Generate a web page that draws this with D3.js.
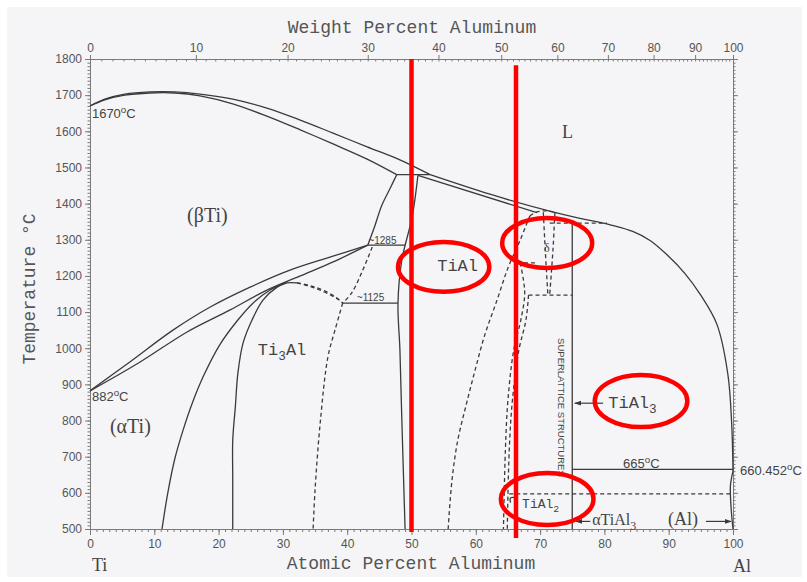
<!DOCTYPE html>
<html lang="en">
<head>
<meta charset="utf-8">
<title>Ti-Al phase diagram</title>
<script src="https://cdn.jsdelivr.net/npm/d3@7"></script>
<style>
body { margin: 0; background: #fff; }
.phase { fill: none; stroke: #3a3a3a; stroke-width: 1.3px; }
.dash { stroke-dasharray: 4,3; }
.axis path, .axis line { stroke: #7a7a7a; }
.axis text { font-family: "Liberation Sans", Arial, sans-serif; font-size: 12px; fill: #555; }
.mark { fill: none; stroke: #f00; stroke-width: 4.5px; }
</style>
</head>
<body>
<script>
var width = 807, height = 582;

// axis ticks
var atMajor = d3.range(0, 101, 10);
var atMinor = d3.range(0, 101, 1);
var wtMajor = d3.range(0, 101, 10);
var wtMinor = d3.range(0, 101, 1);
var tMajor = d3.range(500, 1801, 100);
var tMinor = d3.range(500, 1801, 10);

// phase boundaries, [at.% Al, deg C]
var liquidusTi = [[0,1670],[2.3,1689],[5.4,1703],[9.3,1709],[13.2,1709],[17.1,1703],[22.2,1689],[27.5,1664],[32.7,1631],[37.8,1595],[43.1,1557],[48.2,1521],[52.9,1480]];
var solidusBeta = [[0,1670],[2.3,1687],[5.4,1700],[9.3,1706],[13.2,1706],[17.1,1698],[22.2,1676],[27.5,1642],[32.7,1604],[37.8,1565],[43.1,1523],[47.7,1480]];
var peritectic = [[47.7,1480],[52.9,1480]];
var liquidusAl = [[52.9,1480],[62.2,1426],[71.5,1379],[76.2,1359],[79.3,1348],[81.2,1340],[84.4,1323],[87.1,1298],[89.7,1259],[92.5,1207],[94.9,1149],[97.5,1066],[99.2,928],[99.8,790],[100,660]];
var solidusGamma = [[51.0,1478],[69.5,1375]];
var betaAlpha = [[43.2,1285],[44.2,1333],[45.4,1396],[46.7,1443],[47.7,1480]];
var eutectoid1285 = [[43.2,1285],[49.0,1285]];
var gammaLeft = [[51.0,1478],[50.1,1363],[48.5,1244],[47.9,1125],[48.2,995],[48.5,801],[49.0,500]];
var transusBeta = [[0,882],[6.2,962],[12.9,1050],[18.7,1114],[24.9,1169],[31.1,1216],[37.3,1252],[43.2,1285]];
var transusAlpha = [[0,882],[7.8,962],[15.1,1045],[21.8,1106],[27.2,1158],[32.7,1200],[38.1,1241],[43.2,1285]];
var alphaSolvus = [[11.2,500],[12.1,600],[13.2,695],[14.5,775],[15.9,848],[17.7,925],[20.2,1010],[22.9,1076],[25.3,1124],[28.0,1161],[30.0,1178]];
var ti3AlLeft = [[22.2,500],[22.2,636],[22.2,746],[22.6,837],[23.0,931],[23.8,1014],[25.2,1078],[26.9,1133],[29.1,1169],[30.6,1181]];
var ti3AlTop = [[30.0,1178],[30.6,1181],[32.2,1181]];
var domeUpper = [[32.2,1181],[34.5,1172],[36.9,1155],[38.4,1139],[39.3,1125]];
var domeLower = [[32.2,1181],[35.0,1166],[37.3,1148],[38.7,1134],[39.3,1125]];
var alphaGamma = [[43.9,1280],[42.3,1211],[40.7,1153],[39.3,1125]];
var eutectoid1125 = [[39.3,1125],[47.9,1125]];
var ti3AlRight = [[39.3,1125],[38.1,1050],[37.0,976],[35.8,793],[35.0,608],[34.7,500]];
var gammaRight = [[55.7,500],[56.3,636],[57.2,746],[58.5,843],[59.9,940],[61.4,1037],[63.3,1133],[65.0,1222],[66.9,1299],[68.4,1366]];
var tiAl2Left = [[66.9,1236],[67.4,1190],[67.6,1147],[67.0,1078],[65.9,995],[65.0,857],[64.6,718],[64.3,500]];
var tiAl2Right = [[68.2,1147],[67.8,1078],[66.7,995],[65.7,857],[65.2,718],[64.9,500]];
var deltaCap = [[68.4,1366],[69.5,1377],[71.1,1380],[72.6,1374]];
var deltaLeft = [[70.5,1376],[70.8,1272],[71.2,1150]];
var deltaRight = [[72.3,1375],[72.0,1272],[71.5,1150]];
var iso1236 = [[66.4,1236],[69.5,1236]];
var iso1147 = [[68.2,1147],[75,1147]];
var iso1346 = [[71.5,1346],[80.4,1346]];
var tiAl3Line = [[75,1346],[75,500]];
var iso665 = [[75,665],[100,665]];
var iso597 = [[65.2,597],[99.8,597]];
var alSolvus = [[100,660],[99.6,620],[99.7,560],[100,500]];
var tiAl2Bracket = [[66.4,586],[65.4,586],[65.4,573]];

var solidLines = [liquidusTi, solidusBeta, peritectic, liquidusAl, solidusGamma, betaAlpha, eutectoid1285,
    gammaLeft, transusBeta, transusAlpha, alphaSolvus, ti3AlLeft, ti3AlTop, eutectoid1125,
    tiAl3Line, iso665, alSolvus, tiAl2Bracket];
var dashedLines = [domeUpper, domeLower, alphaGamma, ti3AlRight, gammaRight, tiAl2Left, tiAl2Right,
    deltaCap, deltaLeft, deltaRight, iso1236, iso1147, iso1346, iso597];

// labels: [parts, at.%, deg C, font, size]
var labels = [
    [[["(\u03b2Ti)"]], 15.1, 1349, "serif", 20],
    [[["(\u03b1Ti)"]], 3.1, 765, "serif", 20],
    [[["Ti"],["3","sub"],["Al"]], 26.1, 981, "mono", 17],
    [[["TiAl"]], 54.0, 1214, "mono", 17],
    [[["L"]], 73.4, 1581, "serif", 18],
    [[["\u03b4"]], 70.6, 1266, "serif", 12],
    [[["TiAl"],["3","sub"]], 80.6, 835, "mono", 17],
    [[["TiAl"],["2","sub"]], 67.2, 558, "mono", 13],
    [[["\u03b1TiAl"],["3","sub"]], 78.1, 511, "serif", 16],
    [[["(Al)"]], 89.9, 511, "serif", 18],
    [[["665"],["o","sup"],["C"]], 82.9, 669, "sans", 13],
    [[["660.452"],["o","sup"],["C"]], 101.1, 649, "sans", 13],
    [[["1670"],["o","sup"],["C"]], 0.3, 1637, "sans", 13],
    [[["882"],["o","sup"],["C"]], 0.3, 854, "sans", 13],
    [[["~1285"]], 43.3, 1289, "sans", 10],
    [[["~1125"]], 41.5, 1132, "sans", 10],
    [[["Ti"]], 0.3, 385, "serif", 18],
    [[["Al"]], 100, 380, "serif", 18]
];

// arrows: [from at.%, to at.%, deg C]
var arrows = [[79.8, 75.4, 848], [77.8, 75.6, 521], [95.8, 99.7, 521]];

// red highlights
var redLines = [[50, 1800, 492], [66.25, 1783, 475]];
var redEllipses = [[55.0, 1225, 7.1, 69], [71.1, 1291, 7.0, 69], [85.7, 854, 7.2, 72], [71.1, 583, 7.2, 72]];

var fonts = {
    serif: '"Liberation Serif", "DejaVu Serif", serif',
    mono: '"Liberation Mono", "DejaVu Sans Mono", monospace',
    sans: '"Liberation Sans", Arial, sans-serif'
};

var svg = d3.select("body")
        .append("svg")
        .attr("width", width)
        .attr("height", height);

svg.append("rect").attr("width", width).attr("height", height).attr("fill", "#fff");
svg.append("rect").attr("x", 7).attr("y", 7).attr("width", width - 12).attr("height", height - 12).attr("fill", "#f5f5f7");

var x = d3.scaleLinear().domain([0, 100]).range([90, 733]);
var y = d3.scaleLinear().domain([500, 1800]).range([529, 59]);

// weight percent scale built from the atomic one
function wtToAt(w) {
    var a = w / 26.98, b = (100 - w) / 47.87;
    return 100 * a / (a + b);
}
var wtGrid = d3.range(0, 100.01, 0.5);
var xw = d3.scaleLinear().domain(wtGrid).range(wtGrid.map(function(w) { return x(wtToAt(w)); }));

//axes
svg.append("g").attr("class", "axis").attr("transform", "translate(0," + y(500) + ")")
        .call(d3.axisBottom(x).tickValues(atMinor).tickSize(3).tickSizeOuter(0).tickFormat(""));
svg.append("g").attr("class", "axis").attr("transform", "translate(0," + y(500) + ")")
        .call(d3.axisBottom(x).tickValues(atMajor).tickSize(6).tickSizeOuter(0).tickPadding(4));
svg.append("g").attr("class", "axis").attr("transform", "translate(0," + y(1800) + ")")
        .call(d3.axisTop(xw).tickValues(wtMinor).tickSize(-2.5).tickSizeOuter(0).tickFormat(""));
svg.append("g").attr("class", "axis").attr("transform", "translate(0," + y(1800) + ")")
        .call(d3.axisTop(xw).tickValues(wtMajor).tickSize(4).tickSizeOuter(0).tickPadding(3));
svg.append("g").attr("class", "axis").attr("transform", "translate(" + x(0) + ",0)")
        .call(d3.axisLeft(y).tickValues(tMinor).tickSize(2.5).tickSizeOuter(0).tickFormat(""));
svg.append("g").attr("class", "axis").attr("transform", "translate(" + x(0) + ",0)")
        .call(d3.axisLeft(y).tickValues(tMajor).tickSize(5).tickSizeOuter(0).tickPadding(3).tickFormat(d3.format("d")));
svg.append("g").attr("class", "axis").attr("transform", "translate(" + x(100) + ",0)")
        .call(d3.axisRight(y).tickValues(tMinor).tickSize(2.5).tickSizeOuter(0).tickFormat(""));
svg.append("g").attr("class", "axis").attr("transform", "translate(" + x(100) + ",0)")
        .call(d3.axisRight(y).tickValues(tMajor).tickSize(5).tickSizeOuter(0).tickFormat(""));

// axis titles
svg.append("text").attr("x", 412).attr("y", 33).attr("text-anchor", "middle")
        .attr("font-family", fonts.mono).attr("font-size", 18).attr("fill", "#555")
        .text("Weight Percent Aluminum");
svg.append("text").attr("x", 411).attr("y", 569).attr("text-anchor", "middle")
        .attr("font-family", fonts.mono).attr("font-size", 18).attr("fill", "#555")
        .text("Atomic Percent Aluminum");
svg.append("text").attr("transform", "translate(35,289) rotate(-90)").attr("text-anchor", "middle")
        .attr("font-family", fonts.mono).attr("font-size", 18).attr("fill", "#555")
        .text("Temperature \u00b0C");

//phase lines
var line = d3.line()
        .x(function(d) { return x(d[0]); })
        .y(function(d) { return y(d[1]); })
        .curve(d3.curveCatmullRom.alpha(0.5));

svg.selectAll(".solid")
        .data(solidLines)
        .enter()
        .append("path")
        .attr("class", "phase solid")
        .attr("d", line);

svg.selectAll(".dash")
        .data(dashedLines)
        .enter()
        .append("path")
        .attr("class", "phase dash")
        .attr("d", line);

// arrows
svg.append("defs").append("marker")
        .attr("id", "head")
        .attr("viewBox", "0 0 10 10")
        .attr("refX", 9).attr("refY", 5)
        .attr("markerWidth", 7).attr("markerHeight", 7)
        .attr("markerUnits", "userSpaceOnUse")
        .attr("orient", "auto")
        .append("path").attr("d", "M0,1.5L10,5L0,8.5Z").attr("fill", "#3a3a3a");

svg.selectAll(".arrow")
        .data(arrows)
        .enter()
        .append("line")
        .attr("class", "arrow")
        .attr("x1", function(d) { return x(d[0]); })
        .attr("x2", function(d) { return x(d[1]); })
        .attr("y1", function(d) { return y(d[2]); })
        .attr("y2", function(d) { return y(d[2]); })
        .attr("stroke", "#3a3a3a")
        .attr("stroke-width", 1.2)
        .attr("marker-end", "url(#head)");

//labels
labels.forEach(function(d) {
    var t = svg.append("text")
            .attr("x", x(d[1]))
            .attr("y", y(d[2]))
            .attr("font-family", fonts[d[3]])
            .attr("font-size", d[4])
            .attr("fill", "#444");
    var shift = 0;
    d[0].forEach(function(p) {
        var s = p[1] === "sub" ? d[4] * 0.3 : p[1] === "sup" ? -d[4] * 0.4 : 0;
        var sp = t.append("tspan").attr("dy", s - shift).text(p[0]);
        if (p[1]) sp.attr("font-size", d[4] * 0.75);
        shift = s;
    });
});

svg.append("text")
        .attr("transform", "translate(" + x(72.8) + "," + y(1028) + ") rotate(90)")
        .attr("font-family", fonts.sans)
        .attr("font-size", 9.5)
        .attr("fill", "#444")
        .text("SUPERLATTICE STRUCTURES");

// red highlights
svg.selectAll(".redline")
        .data(redLines)
        .enter()
        .append("line")
        .attr("class", "mark redline")
        .attr("x1", function(d) { return x(d[0]); })
        .attr("x2", function(d) { return x(d[0]); })
        .attr("y1", function(d) { return y(d[1]); })
        .attr("y2", function(d) { return y(d[2]); });

svg.selectAll(".ring")
        .data(redEllipses)
        .enter()
        .append("ellipse")
        .attr("class", "mark ring")
        .attr("cx", function(d) { return x(d[0]); })
        .attr("cy", function(d) { return y(d[1]); })
        .attr("rx", function(d) { return x(d[0] + d[2]) - x(d[0]); })
        .attr("ry", function(d) { return y(d[1] - d[3]) - y(d[1]); });
</script>
</body>
</html>
